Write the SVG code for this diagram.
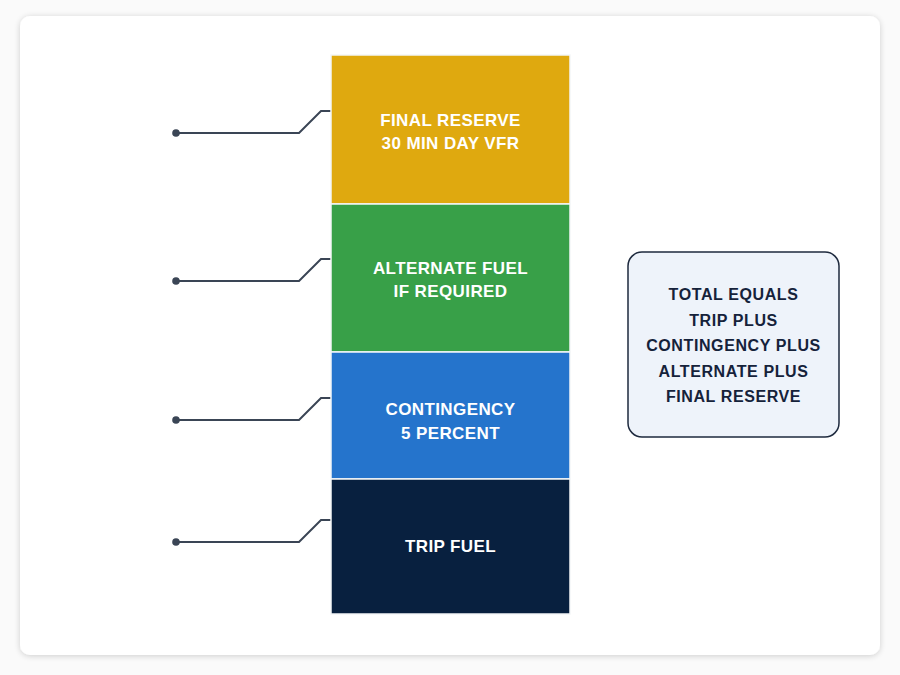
<svg xmlns="http://www.w3.org/2000/svg" width="900" height="675" viewBox="0 0 900 675">
<style>
.seg{stroke:#f4f6f8;stroke-width:1.5}
.lbl{font-family:"Liberation Sans",Arial,sans-serif;font-weight:bold;font-size:17px;fill:#ffffff;text-anchor:middle;letter-spacing:0.4px}
.note{font-family:"Liberation Sans",Arial,sans-serif;font-weight:bold;font-size:16px;fill:#15223a;text-anchor:middle;letter-spacing:0.6px}
.lead{fill:none;stroke:#3a4555;stroke-width:2;stroke-linejoin:miter}
.dot{fill:#3a4555}
</style>
<defs>
<filter id="sh" x="-5%" y="-5%" width="110%" height="110%">
<feGaussianBlur in="SourceAlpha" stdDeviation="3"/>
<feOffset dy="1"/>
<feComponentTransfer><feFuncA type="linear" slope="0.18"/></feComponentTransfer>
<feMerge><feMergeNode/><feMergeNode in="SourceGraphic"/></feMerge>
</filter>
</defs>
<rect width="900" height="675" fill="#fafafa"/>
<rect x="20" y="16" width="860" height="639" rx="10" fill="#ffffff" filter="url(#sh)"/>
<g id="connectors">
<path class="lead" d="M176 133 H299 L321 111 H331"/>
<circle class="dot" cx="176" cy="133" r="3.8"/>
<path class="lead" d="M176 281 H299 L321 259 H331"/>
<circle class="dot" cx="176" cy="281" r="3.8"/>
<path class="lead" d="M176 420 H299 L321 398 H331"/>
<circle class="dot" cx="176" cy="420" r="3.8"/>
<path class="lead" d="M176 542 H299 L321 520 H331"/>
<circle class="dot" cx="176" cy="542" r="3.8"/>
</g>
<g id="final-reserve">
<rect class="seg" x="331" y="55" width="239" height="149" fill="#DFA90F"/>
<text class="lbl" x="450.5" y="126">FINAL RESERVE</text>
<text class="lbl" x="450.5" y="149">30 MIN DAY VFR</text>
</g>
<g id="alternate-fuel">
<rect class="seg" x="331" y="204" width="239" height="148" fill="#38A048"/>
<text class="lbl" x="450.5" y="274">ALTERNATE FUEL</text>
<text class="lbl" x="450.5" y="297">IF REQUIRED</text>
</g>
<g id="contingency">
<rect class="seg" x="331" y="352" width="239" height="127" fill="#2574CC"/>
<text class="lbl" x="450.5" y="415">CONTINGENCY</text>
<text class="lbl" x="450.5" y="439">5 PERCENT</text>
</g>
<g id="trip-fuel">
<rect class="seg" x="331" y="479" width="239" height="135" fill="#08203F"/>
<text class="lbl" x="450.5" y="552">TRIP FUEL</text>
</g>
<g id="total-note">
<rect x="628" y="252" width="211" height="185" rx="14" fill="#EEF3FA" stroke="#1E2A3E" stroke-width="1.5"/>
<text class="note" x="733.5" y="300">TOTAL EQUALS</text>
<text class="note" x="733.5" y="325.5">TRIP PLUS</text>
<text class="note" x="733.5" y="351">CONTINGENCY PLUS</text>
<text class="note" x="733.5" y="376.5">ALTERNATE PLUS</text>
<text class="note" x="733.5" y="402">FINAL RESERVE</text>
</g>
</svg>
